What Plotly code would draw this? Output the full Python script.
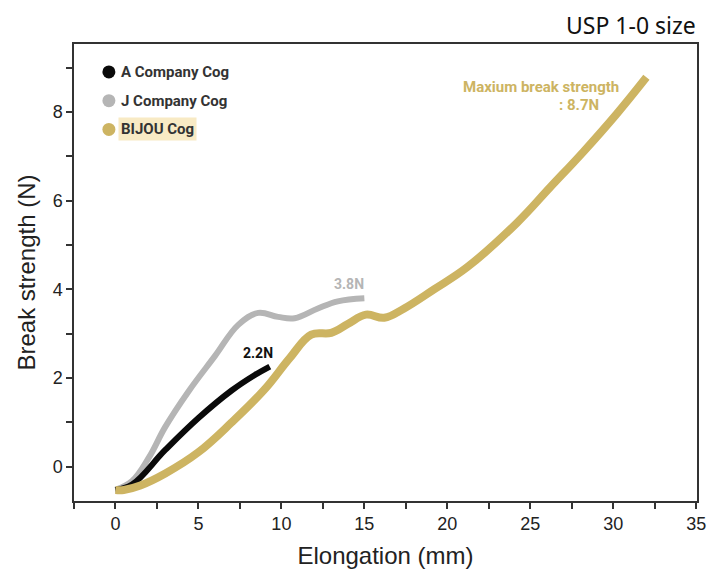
import plotly.graph_objects as go

# ---- data ----
bijou_x = [0, 0.5, 1.5, 3, 5, 7, 9, 10.5, 11.8, 13, 14, 15.1, 16.2, 17.4, 19.2, 21.2, 24.2, 26.2, 28.2, 30.2, 32]
bijou_y = [-0.52, -0.52, -0.42, -0.15, 0.33, 1.0, 1.75, 2.45, 2.98, 3.02, 3.22, 3.43, 3.36, 3.57, 4.0, 4.5, 5.5, 6.3, 7.1, 7.95, 8.78]

j_x = [0, 1, 2, 3, 4.4, 6, 7.4, 8.6, 9.8, 10.8, 12.2, 13.4, 15]
j_y = [-0.52, -0.32, 0.2, 0.9, 1.7, 2.5, 3.2, 3.47, 3.38, 3.35, 3.57, 3.73, 3.8]

a_x = [0, 1, 3, 5, 7, 8.4, 9.3]
a_y = [-0.52, -0.4, 0.38, 1.1, 1.72, 2.07, 2.26]

series_names = ["A Company Cog", "J Company Cog", "BIJOU Cog"]
series_colors = ["#0a0a0a", "#b5b5b5", "#cdb462"]

x_ticks = [0, 5, 10, 15, 20, 25, 30, 35]
y_ticks = [0, 2, 4, 6, 8]

fig = go.Figure()
fig.add_trace(go.Scatter(x=j_x, y=j_y, mode="lines", line=dict(color=series_colors[1], width=6, shape="spline", smoothing=1.1), showlegend=False))
fig.add_trace(go.Scatter(x=a_x, y=a_y, mode="lines", line=dict(color=series_colors[0], width=6, shape="spline", smoothing=1.1), showlegend=False))
fig.add_trace(go.Scatter(x=bijou_x, y=bijou_y, mode="lines", line=dict(color=series_colors[2], width=8, shape="spline", smoothing=1.1), showlegend=False))

fam = "Liberation Sans Narrow, Liberation Sans, Arial"
axis_font = dict(family=fam, size=18, color="#222")
common = dict(ticks="outside", ticklen=6, tickwidth=1.5, tickcolor="#333", automargin=False,
              showline=True, linecolor="#333", linewidth=1.5, mirror=True, showgrid=False, zeroline=False,
              tickfont=axis_font)
fig.update_xaxes(range=[-2.5, 35.05], tickvals=x_ticks, **common,
                 minor=dict(dtick=2.5, tick0=0, ticks="outside", ticklen=6, tickwidth=1.5, tickcolor="#333"),
                 title=dict(text="Elongation (mm)", font=dict(family=fam, size=24, color="#222"), standoff=14))
fig.update_yaxes(range=[-0.77, 9.53], tickvals=y_ticks, **common,
                 minor=dict(dtick=1, tick0=0, ticks="outside", ticklen=6, tickwidth=1.5, tickcolor="#333"),
                 title=dict(text="Break strength (N)", font=dict(family=fam, size=24, color="#222"), standoff=10))

# legend (custom)
leg_y = [0.939, 0.876, 0.813]
shapes = []
annotations = []
for name, col, yy in zip(series_names, series_colors, leg_y):
    shapes.append(dict(type="circle", xref="paper", yref="paper", xsizemode="pixel", ysizemode="pixel",
                       xanchor=0.056, yanchor=yy, x0=-6.5, x1=6.5, y0=-6.5, y1=6.5,
                       fillcolor=col, line=dict(width=0)))
    annotations.append(dict(xref="paper", yref="paper", x=0.071, y=yy, xanchor="left", yanchor="middle",
                            text="<b>%s</b>" % name, showarrow=False,
                            font=dict(family="Roboto", size=15, color="#333"),
                            bgcolor="#f8eac4" if name.startswith("BIJOU") else None, borderpad=2))

# value labels
annotations.append(dict(x=a_x[-1], y=a_y[-1], text="<b>2.2N</b>", showarrow=False, yshift=14, xshift=-12,
                        font=dict(family="Roboto", size=14, color="#111")))
annotations.append(dict(x=j_x[-1], y=j_y[-1], text="<b>3.8N</b>", showarrow=False, yshift=14, xshift=-15,
                        font=dict(family="Roboto", size=14, color="#b5b5b5")))
annotations.append(dict(x=bijou_x[-1], y=bijou_y[-1], text="<b>Maxium break strength</b>", showarrow=False,
                        xanchor="right", yshift=-10, xshift=-25,
                        font=dict(family="Roboto", size=15, color="#cdb462")))
annotations.append(dict(x=bijou_x[-1], y=bijou_y[-1], text="<b>: 8.7N</b>", showarrow=False,
                        xanchor="right", yshift=-28, xshift=-45,
                        font=dict(family="Roboto", size=15, color="#cdb462")))
# title
annotations.append(dict(xref="paper", yref="paper", x=1.0, y=1.0416, xanchor="right", yanchor="middle",
                        text="USP 1-0 size", showarrow=False, borderpad=0,
                        font=dict(family="Noto Sans", size=23, color="#111")))

fig.update_layout(width=715, height=575, margin=dict(l=66, r=26, t=36, b=82),
                  plot_bgcolor="white", paper_bgcolor="white", shapes=shapes, annotations=annotations)

fig.write_html("out.html")
